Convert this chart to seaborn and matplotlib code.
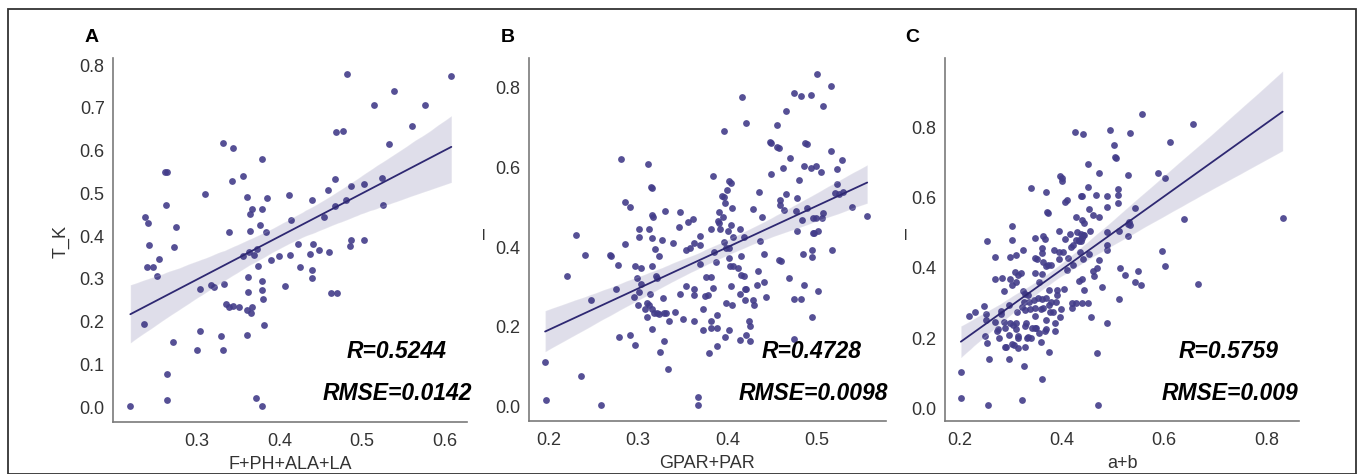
import numpy as np
import pandas as pd
import matplotlib
matplotlib.use("Agg")
import matplotlib.pyplot as plt
from matplotlib.patches import Rectangle
import seaborn as sns

# ---------------- data ----------------
panel_letters = ["A", "B", "C"]
x_labels = ["F+PH+ALA+LA", "GPAR+PAR", "a+b"]
y_labels = ["T_K", "l", "l"]
r_texts = ["R=0.5244", "R=0.4728", "R=0.5759"]
rmse_texts = ["RMSE=0.0142", "RMSE=0.0098", "RMSE=0.009"]

a_pts = [(0.482,0.780),(0.608,0.776),(0.539,0.740),(0.514,0.707),(0.576,0.706),(0.560,0.659),(0.468,0.643),(0.477,0.647),
(0.331,0.618),(0.343,0.607),(0.533,0.615),(0.378,0.581),(0.261,0.549),(0.264,0.549),(0.356,0.541),(0.342,0.529),(0.467,0.533),
(0.524,0.535),(0.310,0.499),(0.502,0.521),(0.487,0.517),(0.459,0.508),(0.411,0.496),(0.360,0.491),(0.385,0.489),(0.439,0.485),
(0.480,0.484),(0.262,0.472),(0.525,0.472),(0.366,0.464),(0.378,0.464),(0.467,0.470),(0.364,0.452),(0.237,0.444),(0.414,0.437),
(0.454,0.444),(0.241,0.430),(0.376,0.427),(0.274,0.422),(0.364,0.412),(0.338,0.409),(0.384,0.409),(0.242,0.379),(0.422,0.382),
(0.440,0.381),(0.487,0.392),(0.502,0.391),(0.485,0.377),(0.272,0.375),(0.372,0.371),(0.363,0.363),(0.369,0.355),(0.356,0.353),
(0.448,0.367),(0.460,0.364),(0.437,0.358),(0.399,0.354),(0.412,0.355),(0.254,0.346),(0.389,0.344),(0.239,0.328),(0.247,0.327),
(0.374,0.330),(0.425,0.328),(0.439,0.321),(0.251,0.307),(0.362,0.304),(0.439,0.302),(0.378,0.296),(0.332,0.289),(0.317,0.285),
(0.321,0.282),(0.304,0.277),(0.406,0.284),(0.378,0.273),(0.362,0.269),(0.462,0.267),(0.469,0.267),(0.380,0.253),(0.335,0.242),
(0.338,0.235),(0.343,0.236),(0.351,0.235),(0.360,0.228),(0.367,0.234),(0.365,0.219),(0.235,0.195),(0.381,0.193),(0.304,0.179),
(0.360,0.169),(0.329,0.167),(0.271,0.152),(0.300,0.134),(0.331,0.133),(0.263,0.077),(0.263,0.016),(0.371,0.021),(0.378,0.002),
(0.219,0.002)]

b_pts = [(0.500,0.835),(0.516,0.804),(0.474,0.787),(0.482,0.779),(0.493,0.781),(0.416,0.778),(0.507,0.755),(0.465,0.743),
(0.421,0.711),(0.455,0.708),(0.396,0.693),(0.447,0.663),(0.449,0.661),(0.455,0.651),(0.457,0.649),(0.487,0.661),(0.489,0.658),
(0.516,0.642),(0.470,0.624),(0.281,0.621),(0.311,0.610),(0.528,0.618),(0.485,0.603),(0.462,0.599),(0.493,0.600),(0.499,0.603),
(0.504,0.590),(0.522,0.596),(0.384,0.580),(0.448,0.585),(0.402,0.566),(0.404,0.561),(0.480,0.569),(0.522,0.559),(0.314,0.552),
(0.316,0.550),(0.399,0.544),(0.435,0.539),(0.465,0.534),(0.520,0.536),(0.524,0.534),(0.529,0.538),(0.394,0.529),(0.396,0.527),
(0.459,0.518),(0.285,0.514),(0.478,0.523),(0.458,0.505),(0.397,0.510),(0.291,0.501),(0.405,0.498),(0.428,0.496),(0.539,0.500),
(0.330,0.492),(0.347,0.489),(0.463,0.494),(0.476,0.491),(0.489,0.499),(0.390,0.488),(0.507,0.486),(0.505,0.473),(0.499,0.473),
(0.495,0.473),(0.556,0.479),(0.315,0.480),(0.317,0.476),(0.438,0.477),(0.395,0.475),(0.483,0.468),(0.361,0.471),(0.356,0.464),
(0.389,0.466),(0.390,0.461),(0.404,0.457),(0.346,0.452),(0.391,0.446),(0.381,0.446),(0.301,0.447),(0.312,0.447),(0.414,0.446),
(0.478,0.441),(0.400,0.441),(0.501,0.441),(0.495,0.436),(0.497,0.437),(0.231,0.431),(0.369,0.429),(0.301,0.426),(0.315,0.424),
(0.406,0.427),(0.418,0.425),(0.327,0.417),(0.436,0.415),(0.396,0.413),(0.339,0.410),(0.285,0.409),(0.362,0.410),(0.369,0.405),
(0.319,0.396),(0.354,0.394),(0.358,0.397),(0.398,0.398),(0.401,0.398),(0.517,0.394),(0.385,0.387),(0.241,0.380),(0.269,0.380),
(0.270,0.379),(0.323,0.379),(0.415,0.379),(0.441,0.384),(0.484,0.383),(0.494,0.394),(0.494,0.375),(0.401,0.373),(0.387,0.363),
(0.457,0.367),(0.460,0.366),(0.369,0.357),(0.277,0.356),(0.316,0.354),(0.296,0.354),(0.303,0.348),(0.403,0.354),(0.406,0.352),
(0.412,0.348),(0.434,0.340),(0.220,0.329),(0.299,0.324),(0.320,0.329),(0.321,0.324),(0.376,0.326),(0.381,0.326),(0.415,0.331),
(0.418,0.329),(0.469,0.322),(0.303,0.308),(0.404,0.303),(0.353,0.302),(0.433,0.306),(0.441,0.313),(0.485,0.305),(0.275,0.295),
(0.362,0.295),(0.384,0.297),(0.419,0.295),(0.421,0.296),(0.501,0.291),(0.301,0.287),(0.313,0.282),(0.347,0.283),(0.362,0.280),
(0.414,0.283),(0.375,0.278),(0.378,0.280),(0.295,0.276),(0.328,0.273),(0.443,0.275),(0.247,0.267),(0.474,0.270),(0.482,0.271),
(0.419,0.268),(0.428,0.268),(0.398,0.260),(0.405,0.255),(0.300,0.255),(0.310,0.261),(0.312,0.256),(0.429,0.254),(0.315,0.244),
(0.308,0.244),(0.373,0.246),(0.318,0.236),(0.321,0.235),(0.323,0.233),(0.329,0.236),(0.331,0.236),(0.341,0.238),(0.388,0.229),
(0.310,0.224),(0.350,0.220),(0.335,0.216),(0.362,0.216),(0.424,0.216),(0.425,0.203),(0.494,0.224),(0.381,0.214),(0.316,0.196),
(0.372,0.193),(0.381,0.197),(0.388,0.198),(0.402,0.193),(0.421,0.181),(0.397,0.174),(0.414,0.168),(0.279,0.175),(0.291,0.180),
(0.425,0.164),(0.474,0.169),(0.329,0.166),(0.297,0.154),(0.388,0.151),(0.379,0.135),(0.324,0.137),(0.196,0.112),(0.333,0.095),
(0.236,0.077),(0.197,0.017),(0.259,0.003),(0.367,0.023),(0.367,0.003)]

c_pts = [(0.557,0.838),(0.656,0.808),(0.427,0.787),(0.441,0.781),(0.495,0.791),(0.534,0.783),(0.612,0.758),(0.503,0.749),
(0.505,0.716),(0.507,0.713),(0.452,0.696),(0.397,0.662),(0.400,0.654),(0.473,0.668),(0.529,0.664),(0.588,0.668),(0.603,0.655),
(0.401,0.647),(0.341,0.626),(0.451,0.630),(0.369,0.616),(0.510,0.623),(0.468,0.608),(0.488,0.605),(0.438,0.605),(0.440,0.603),
(0.511,0.606),(0.410,0.593),(0.406,0.587),(0.511,0.584),(0.488,0.574),(0.544,0.570),(0.372,0.559),(0.374,0.556),(0.453,0.566),
(0.462,0.550),(0.473,0.544),(0.429,0.544),(0.439,0.537),(0.639,0.540),(0.832,0.541),(0.531,0.531),(0.534,0.522),(0.529,0.525),
(0.302,0.518),(0.444,0.528),(0.512,0.504),(0.455,0.506),(0.488,0.503),(0.416,0.495),(0.395,0.505),(0.430,0.501),(0.438,0.496),
(0.441,0.492),(0.444,0.494),(0.440,0.486),(0.433,0.480),(0.429,0.478),(0.434,0.475),(0.438,0.476),(0.530,0.490),(0.255,0.475),
(0.303,0.479),(0.347,0.484),(0.364,0.490),(0.368,0.483),(0.406,0.482),(0.418,0.458),(0.422,0.465),(0.489,0.465),(0.488,0.452),
(0.596,0.447),(0.325,0.452),(0.362,0.456),(0.361,0.443),(0.385,0.450),(0.394,0.446),(0.403,0.446),(0.436,0.445),(0.311,0.437),
(0.270,0.432),(0.300,0.432),(0.453,0.438),(0.351,0.426),(0.347,0.429),(0.413,0.429),(0.394,0.424),(0.441,0.424),(0.364,0.417),
(0.370,0.404),(0.374,0.407),(0.379,0.409),(0.473,0.422),(0.423,0.408),(0.603,0.405),(0.469,0.400),(0.514,0.400),(0.462,0.391),
(0.464,0.378),(0.411,0.395),(0.308,0.389),(0.315,0.381),(0.321,0.386),(0.347,0.384),(0.361,0.383),(0.549,0.390),(0.439,0.368),
(0.433,0.362),(0.523,0.380),(0.269,0.369),(0.283,0.371),(0.300,0.367),(0.302,0.352),(0.311,0.360),(0.356,0.359),(0.544,0.361),
(0.556,0.351),(0.667,0.355),(0.479,0.346),(0.375,0.337),(0.391,0.337),(0.443,0.336),(0.404,0.339),(0.287,0.334),(0.324,0.334),
(0.329,0.327),(0.334,0.322),(0.390,0.323),(0.353,0.314),(0.361,0.312),(0.369,0.315),(0.346,0.310),(0.337,0.304),(0.326,0.303),
(0.380,0.304),(0.389,0.302),(0.512,0.312),(0.421,0.299),(0.428,0.299),(0.439,0.299),(0.452,0.301),(0.249,0.292),(0.298,0.295),
(0.322,0.289),(0.376,0.294),(0.328,0.280),(0.339,0.284),(0.348,0.285),(0.359,0.284),(0.363,0.286),(0.421,0.287),(0.398,0.284),
(0.230,0.276),(0.253,0.269),(0.282,0.278),(0.282,0.268),(0.313,0.274),(0.377,0.274),(0.384,0.274),(0.397,0.260),(0.218,0.263),
(0.348,0.262),(0.458,0.260),(0.253,0.252),(0.369,0.252),(0.270,0.245),(0.287,0.246),(0.300,0.243),(0.305,0.239),(0.311,0.242),
(0.331,0.244),(0.388,0.243),(0.488,0.242),(0.342,0.230),(0.347,0.230),(0.350,0.229),(0.329,0.235),(0.368,0.220),(0.370,0.225),
(0.388,0.221),(0.273,0.222),(0.275,0.227),(0.290,0.230),(0.311,0.226),(0.251,0.206),(0.297,0.209),(0.315,0.206),(0.335,0.204),
(0.341,0.202),(0.356,0.215),(0.278,0.201),(0.314,0.200),(0.255,0.187),(0.360,0.188),(0.333,0.200),(0.290,0.176),(0.292,0.176),
(0.303,0.183),(0.307,0.182),(0.315,0.173),(0.329,0.174),(0.376,0.160),(0.469,0.158),(0.258,0.142),(0.297,0.142),(0.326,0.121),
(0.203,0.105),(0.362,0.085),(0.204,0.029),(0.322,0.026),(0.257,0.010),(0.472,0.010)]

x_ticks = [[0.3, 0.4, 0.5, 0.6], [0.2, 0.3, 0.4, 0.5], [0.2, 0.4, 0.6, 0.8]]
y_ticks = [[0.0, 0.1, 0.2, 0.3, 0.4, 0.5, 0.6, 0.7, 0.8], [0.0, 0.2, 0.4, 0.6, 0.8], [0.0, 0.2, 0.4, 0.6, 0.8]]

# ---------------- style / layout ----------------
sns.set_style("white")
plt.rcParams["font.family"] = ["Liberation Sans", "DejaVu Sans"]

W, H = 1362, 474
fig = plt.figure(figsize=(W / 100, H / 100), dpi=100)

def fx(px):
    return px / W

def fy(py):
    return 1 - py / H

# axes boxes in pixels: (left, top, right, bottom)
boxes = [(113, 58, 467, 422), (529, 58, 886, 421), (945, 58, 1299, 421)]
xlims = [(0.198, 0.627), (0.178, 0.577), (0.172, 0.864)]
ylims = [(-0.035, 0.817), (-0.036, 0.875), (-0.035, 0.996)]
letter_pos = [(92, 37), (508, 37), (912, 38)]
ylabel_x = [61, 484, 906]
r_pos = [(447, 352), (862, 352), (1279, 352)]
rmse_pos = [(472, 393), (888, 393), (1298, 394)]

point_color = "#433d8a"
line_color = "#2e2872"

for i, pts in enumerate([a_pts, b_pts, c_pts]):
    df = pd.DataFrame(pts, columns=["x", "y"])
    l, t, r, b = boxes[i]
    ax = fig.add_axes([fx(l), fy(b), fx(r - l), (b - t) / H])
    sns.regplot(data=df, x="x", y="y", ax=ax, color=line_color,
                scatter_kws=dict(s=24, color=point_color, alpha=0.9, linewidths=0),
                line_kws=dict(lw=1.3, color=line_color))
    ax.set_xlim(*xlims[i])
    ax.set_ylim(*ylims[i])
    ax.set_xticks(x_ticks[i])
    ax.set_yticks(y_ticks[i])
    ax.set_xticklabels([f"{v:.1f}" for v in x_ticks[i]])
    ax.set_yticklabels([f"{v:.1f}" for v in y_ticks[i]])
    ax.tick_params(axis="both", length=0, labelsize=13, colors="#333333")
    ax.tick_params(axis="x", pad=8)
    ax.tick_params(axis="y", pad=6)
    for s in ["top", "right"]:
        ax.spines[s].set_visible(False)
    for s in ["left", "bottom"]:
        ax.spines[s].set_color("#7a7a7a")
        ax.spines[s].set_linewidth(1.2)
    ax.set_xlabel(x_labels[i], fontsize=13, color="#333333", labelpad=4)
    ax.set_ylabel("")
    # y label
    fig.text(fx(ylabel_x[i]), fy(242 if i == 0 else 236), y_labels[i],
             rotation=90 if i == 0 else 0, fontsize=13 if i == 0 else 11,
             color="#333333", ha="center", va="center")
    # panel letter
    fig.text(fx(letter_pos[i][0]), fy(letter_pos[i][1]), panel_letters[i],
             fontsize=14, fontweight="bold", ha="center", va="center", color="black")
    # statistics
    fig.text(fx(r_pos[i][0]), fy(r_pos[i][1]), r_texts[i], fontsize=16.5,
             fontweight="bold", fontstyle="italic", ha="right", va="center", color="black")
    fig.text(fx(rmse_pos[i][0]), fy(rmse_pos[i][1]), rmse_texts[i], fontsize=16.5,
             fontweight="bold", fontstyle="italic", ha="right", va="center", color="black")

# outer frame
fig.add_artist(Rectangle((fx(8), 0.001), fx(1356 - 8), fy(9) - 0.001,
                         transform=fig.transFigure, fill=False,
                         edgecolor="#333333", linewidth=1.3))

fig.savefig("out.png", dpi=100)
